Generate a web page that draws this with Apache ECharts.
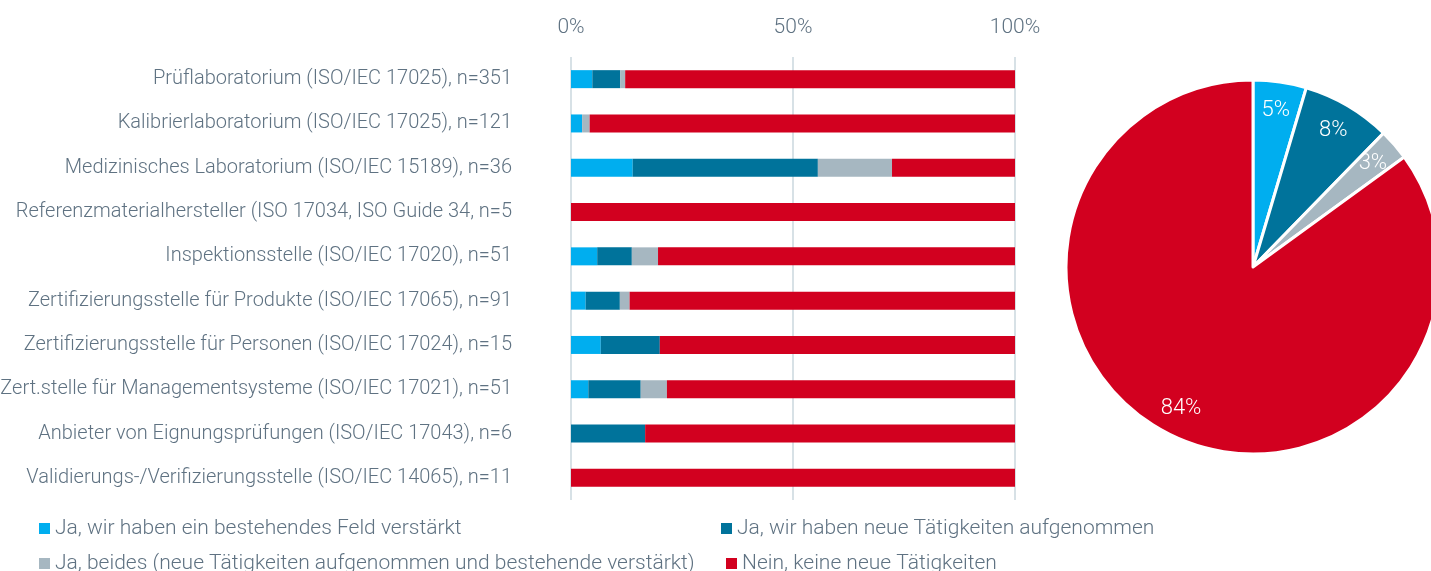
<!DOCTYPE html>
<html>
<head>
<meta charset="utf-8">
<script src="https://cdn.jsdelivr.net/npm/echarts@6/dist/echarts.min.js"></script>
<style>
  html, body { margin: 0; padding: 0; background: #fff; }
  #chart { width: 1431px; height: 571px; }
</style>
</head>
<body>
<div id="chart"></div>
<script>
const categories = [
  "Prüflaboratorium (ISO/IEC 17025), n=351",
  "Kalibrierlaboratorium (ISO/IEC 17025), n=121",
  "Medizinisches Laboratorium (ISO/IEC 15189), n=36",
  "Referenzmaterialhersteller (ISO 17034, ISO Guide 34, n=5",
  "Inspektionsstelle (ISO/IEC 17020), n=51",
  "Zertifizierungsstelle für Produkte (ISO/IEC 17065), n=91",
  "Zertifizierungsstelle für Personen (ISO/IEC 17024), n=15",
  "Zert.stelle für Managementsysteme (ISO/IEC 17021), n=51",
  "Anbieter von Eignungsprüfungen (ISO/IEC 17043), n=6",
  "Validierungs-/Verifizierungsstelle (ISO/IEC 14065), n=11"
]

const seriesNames = [
  "Ja, wir haben ein bestehendes Feld verstärkt",
  "Ja, wir haben neue Tätigkeiten aufgenommen",
  "Ja, beides (neue Tätigkeiten aufgenommen und bestehende verstärkt)",
  "Nein, keine neue Tätigkeiten"
]

// percent per category
const feldVerstaerkt = [4.8, 2.5, 13.9, 0, 5.9, 3.3, 6.7, 3.9, 0, 0]
const neueTaetigkeiten = [6.3, 0, 41.7, 0, 7.8, 7.7, 13.3, 11.8, 16.7, 0]
const beides = [1.1, 1.7, 16.7, 0, 5.9, 2.2, 0, 5.9, 0, 0]
const nein = [87.8, 95.8, 27.7, 100, 80.4, 86.8, 80, 78.4, 83.3, 100]

const pieValues = [4.6, 7.7, 2.7, 85.0]
const pieLabels = ["5%", "8%", "3%", "84%"]

const xTicks = [0, 50, 100]

const colors = ["#00aeef", "#00739b", "#a6b7c1", "#d2001f"]
const textColor = "#5f7282"
const fontFamily = "Roboto, 'Noto Sans', sans-serif"

const barData = [feldVerstaerkt, neueTaetigkeiten, beides, nein]

const chart = echarts.init(document.getElementById("chart"), null, { renderer: "canvas" })

const legendPos = [
  { left: 34, top: 513 },
  { left: 716, top: 513 },
  { left: 34, top: 548 },
  { left: 721, top: 548 }
]

chart.setOption({
  animation: false,
  backgroundColor: "#fff",
  color: colors,
  textStyle: { fontFamily: fontFamily, fontWeight: 300 },
  legend: seriesNames.map((name, i) => ({
    data: [name],
    left: legendPos[i].left,
    top: legendPos[i].top,
    itemWidth: 11,
    itemHeight: 11,
    itemGap: 0,
    icon: "rect",
    selectedMode: false,
    textStyle: {
      color: textColor,
      fontSize: 21,
      fontWeight: 300,
      fontFamily: fontFamily
    }
  })),
  grid: {
    left: 571,
    right: 416,
    top: 57,
    height: 443,
    outerBoundsMode: "none"
  },
  xAxis: {
    type: "value",
    position: "top",
    min: xTicks[0],
    max: xTicks[xTicks.length - 1],
    interval: xTicks[1] - xTicks[0],
    axisLine: { show: false },
    axisTick: { show: false },
    axisLabel: {
      formatter: "{value}%",
      color: textColor,
      fontSize: 21,
      fontWeight: 300,
      margin: 19
    },
    splitLine: {
      lineStyle: { color: "#d7e1e6", width: 2 }
    }
  },
  yAxis: {
    type: "category",
    data: categories,
    inverse: true,
    axisLine: { show: false },
    axisTick: { show: false },
    axisLabel: {
      color: textColor,
      fontSize: 20,
      fontWeight: 300,
      margin: 59
    }
  },
  series: [
    ...barData.map((values, i) => ({
      name: seriesNames[i],
      type: "bar",
      stack: "total",
      barWidth: 18,
      itemStyle: { color: colors[i] },
      data: values
    })),
    {
      name: "Gesamt",
      type: "pie",
      center: [1253, 267],
      radius: [0, 187],
      startAngle: 90,
      clockwise: true,
      silent: true,
      itemStyle: { borderColor: "#fff", borderWidth: 3 },
      label: { show: false },
      labelLine: { show: false },
      data: pieValues.map((v, i) => ({ name: seriesNames[i], value: v, itemStyle: { color: colors[i] } }))
    },
    {
      name: "Gesamt-Beschriftung",
      type: "pie",
      center: [1253, 267],
      radius: [124, 187],
      startAngle: 90,
      clockwise: true,
      silent: true,
      itemStyle: { color: "rgba(0,0,0,0)" },
      label: {
        show: true,
        position: "inside",
        color: "#fff",
        fontSize: 22,
        fontWeight: 300,
        formatter: (p) => pieLabels[p.dataIndex]
      },
      labelLine: { show: false },
      data: pieValues.map((v, i) => ({ name: seriesNames[i], value: v }))
    }
  ]
})
</script>
</body>
</html>
